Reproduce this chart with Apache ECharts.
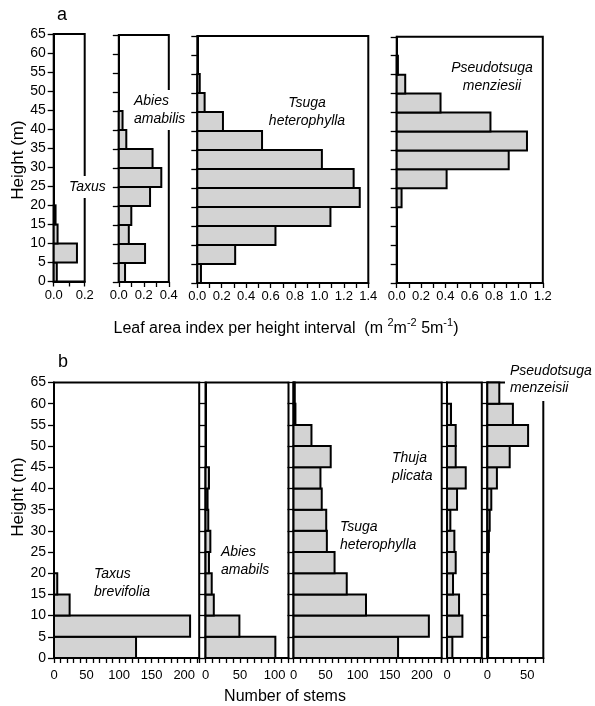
<!DOCTYPE html>
<html><head><meta charset="utf-8">
<script src="https://cdn.jsdelivr.net/npm/echarts@6/dist/echarts.min.js"></script>
<style>html,body{margin:0;padding:0;background:#fff}#c{width:595px;height:706px}</style>
</head><body><div id="c"></div><script>
// ---- data ----
const heightBins = [0, 5, 10, 15, 20, 25, 30, 35, 40, 45, 50, 55, 60]; // lower edge of each 5 m bin
const binSize = 5;
const heightTicks = [0, 5, 10, 15, 20, 25, 30, 35, 40, 45, 50, 55, 60, 65];

// panel a: leaf area index per 5 m height interval
const taxusLAI  = [0.02, 0.15, 0.025, 0.012, 0, 0, 0, 0, 0, 0, 0, 0, 0];
const abiesLAI  = [0.05, 0.21, 0.08, 0.10, 0.25, 0.34, 0.27, 0.06, 0.03, 0, 0, 0, 0];
const tsugaLAI  = [0.03, 0.31, 0.64, 1.09, 1.33, 1.28, 1.02, 0.53, 0.21, 0.06, 0.02, 0, 0];
const pseudoLAI = [0, 0, 0, 0, 0.04, 0.41, 0.92, 1.07, 0.77, 0.36, 0.07, 0.01, 0];

// panel b: number of stems per 5 m height class
const taxusStems  = [126, 209, 24, 5, 0, 0, 0, 0, 0, 0, 0, 0, 0];
const abiesStems  = [101, 49, 12, 9, 5, 7, 4, 3, 5, 0, 0, 0, 0];
const tsugaStems  = [163, 211, 113, 83, 64, 52, 51, 44, 42, 58, 28, 3, 2];
const thujaStems  = [8, 23, 18, 9, 13, 11, 5, 15, 28, 13, 13, 6, 0];
const pseudoStems = [1, 1, 1, 1, 1, 2, 3, 5, 12, 28, 51, 32, 15];

// tick labels
const taxusLAITicks  = [0, 0.2];
const abiesLAITicks  = [0, 0.2, 0.4];
const tsugaLAITicks  = [0, 0.2, 0.4, 0.6, 0.8, 1.0, 1.2, 1.4];
const pseudoLAITicks = [0, 0.2, 0.4, 0.6, 0.8, 1.0, 1.2];
const taxusStemTicks  = [0, 50, 100, 150, 200];
const abiesStemTicks  = [0, 50, 100];
const tsugaStemTicks  = [0, 50, 100, 150, 200];
const thujaStemTicks  = [0];
const pseudoStemTicks = [0, 50];

// ---- layout ----
const FONT = 'Liberation Sans, Arial, sans-serif';
const panels = [
  {vals: taxusLAI,  ticks: taxusLAITicks,  x0: 53.7,  x1: 84.7,  y0: 34,    y1: 281.5, max: 0.2, step: 0.1, dec: 1, ylab: true},
  {vals: abiesLAI,  ticks: abiesLAITicks,  x0: 118.8, x1: 168.8, y0: 35,    y1: 282,   max: 0.4, step: 0.1, dec: 1},
  {vals: tsugaLAI,  ticks: tsugaLAITicks,  x0: 197.3, x1: 368.3, y0: 36,    y1: 283,   max: 1.4, step: 0.1, dec: 1},
  {vals: pseudoLAI, ticks: pseudoLAITicks, x0: 396.7, x1: 542.8, y0: 36.8,  y1: 283,   max: 1.2, step: 0.1, dec: 1},
  {vals: taxusStems,  ticks: taxusStemTicks,  x0: 54,    x1: 199.2, y0: 382.5, y1: 658, max: 223, step: 10, dec: 0, ylab: true, b: true},
  {vals: abiesStems,  ticks: abiesStemTicks,  x0: 205.5, x1: 288.5, y0: 382.5, y1: 658, max: 120, step: 10, dec: 0, b: true},
  {vals: tsugaStems,  ticks: tsugaStemTicks,  x0: 293.5, x1: 441.7, y0: 382.5, y1: 658, max: 231, step: 10, dec: 0, b: true},
  {vals: thujaStems,  ticks: thujaStemTicks,  x0: 447,   x1: 481.8, y0: 382.5, y1: 658, max: 52,  step: 10, dec: 0, b: true},
  {vals: pseudoStems, ticks: pseudoStemTicks, x0: 487.3, x1: 543.3, y0: 382.5, y1: 658, max: 70,  step: 10, dec: 0, b: true}
];

const grid = [], xAxis = [], yAxis = [], series = [];
panels.forEach((p, i) => {
  grid.push({left: p.x0, top: p.y0, width: p.x1 - p.x0, height: p.y1 - p.y0,
    show: true, borderColor: '#000', borderWidth: 2, backgroundColor: 'transparent'});
  xAxis.push({type: 'value', gridIndex: i, min: 0, max: p.max, interval: p.step,
    axisLine: {show: true, lineStyle: {color: '#000', width: 2}},
    axisTick: {show: true, length: 5, lineStyle: {color: '#000', width: 1.3}},
    splitLine: {show: false},
    axisLabel: {show: true, color: '#000', fontFamily: FONT, fontSize: 13,
      margin: p.b ? 11 : 7, hideOverlap: false,
      formatter: v => p.ticks.some(t => Math.abs(t - v) < 1e-6) ? v.toFixed(p.dec) : ''}
  });
  yAxis.push({type: 'value', gridIndex: i, min: 0, max: 65, interval: 5,
    axisLine: {show: true, lineStyle: {color: '#000', width: 2}},
    axisTick: {show: true, length: 6, lineStyle: {color: '#000', width: 1.3}},
    splitLine: {show: false},
    axisLabel: {show: !!p.ylab, color: '#000', fontFamily: FONT, fontSize: 14, margin: 8,
      formatter: v => heightTicks.indexOf(v) >= 0 ? String(v) : ''}
  });
  series.push({
    type: 'custom', xAxisIndex: i, yAxisIndex: i, z: 3,
    data: heightBins.map((h, k) => [h, h + binSize, p.vals[k]]),
    encode: {x: 2, y: [0, 1]},
    renderItem: (params, api) => {
      const v = api.value(2);
      if (!(v > 0)) return null;
      const a = api.coord([0, api.value(0)]);
      const b = api.coord([v, api.value(1)]);
      return {type: 'rect', shape: {x: a[0], y: b[1], width: b[0] - a[0], height: a[1] - b[1]},
        style: {fill: '#d3d3d3', stroke: '#000', lineWidth: 2}};
    }
  });
});

function label(txt, x, y, align, opts) {
  return Object.assign({type: 'text', x: x, y: y, z: 100,
    style: Object.assign({text: txt, fill: '#000', font: 'italic 14px ' + FONT,
      align: align, verticalAlign: 'middle', lineHeight: 18,
      backgroundColor: '#fff', padding: [2, 3, 2, 3]}, opts || {})});
}

const graphic = [
  {type: 'text', x: 62, y: 15, style: {text: 'a', fill: '#000', font: '18px ' + FONT, align: 'center', verticalAlign: 'middle'}},
  {type: 'text', x: 63, y: 362, style: {text: 'b', fill: '#000', font: '18px ' + FONT, align: 'center', verticalAlign: 'middle'}},
  {type: 'text', x: 18, y: 160, rotation: Math.PI / 2, style: {text: 'Height (m)', fill: '#000', font: '17px ' + FONT, align: 'center', verticalAlign: 'middle'}},
  {type: 'text', x: 18, y: 497, rotation: Math.PI / 2, style: {text: 'Height (m)', fill: '#000', font: '17px ' + FONT, align: 'center', verticalAlign: 'middle'}},
  {type: 'text', x: 286, y: 327, style: {
    text: '{n|Leaf area index per height interval  (m }{s|2}{n|m}{s|-2}{n| 5m}{s|-1}{n|)}',
    align: 'center', verticalAlign: 'middle',
    rich: {n: {fontFamily: FONT, fontSize: 16, fill: '#000', lineHeight: 20, verticalAlign: 'bottom'},
           s: {fontFamily: FONT, fontSize: 11, fill: '#000', lineHeight: 16, verticalAlign: 'top'}}}},
  {type: 'text', x: 285, y: 697, style: {text: 'Number of stems', fill: '#000', font: '16px ' + FONT, align: 'center', verticalAlign: 'middle'}},
  label('Taxus', 66, 187, 'left'),
  label('Abies\namabilis', 131, 110, 'left'),
  label('Tsuga\nheterophylla', 307, 112.5, 'center'),
  label('Pseudotsuga\nmenziesii', 492, 77.5, 'center'),
  label('Taxus\nbrevifolia', 91, 583, 'left'),
  label('Abies\namabils', 218, 561.5, 'left'),
  label('Tsuga\nheterophylla', 337, 536, 'left'),
  label('Thuja\nplicata', 389, 467, 'left'),
  label('Pseudotsuga\nmenzeisii', 505, 380, 'left', {padding: [3, 6, 5, 5], lineHeight: 17})
];

const chart = echarts.init(document.getElementById('c'), null, {renderer: 'canvas'});
chart.setOption({animation: false, backgroundColor: '#fff', grid, xAxis, yAxis, series, graphic});
</script></body></html>
